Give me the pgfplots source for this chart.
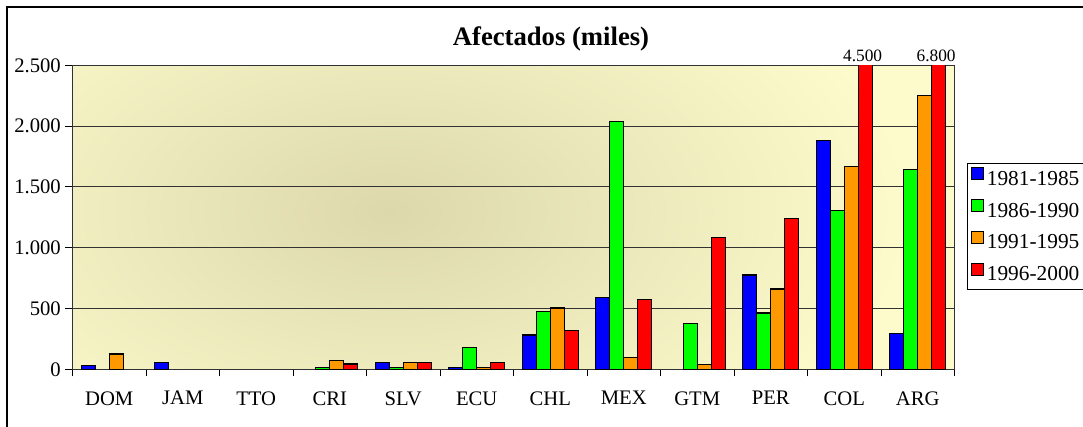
\documentclass[border=0pt]{standalone}
\usepackage{fontspec}
\setmainfont{Liberation Serif}
\usepackage{pgfplots}
\pgfplotsset{compat=1.18}
\definecolor{bBlue}{RGB}{0,0,255}
\definecolor{bGreen}{RGB}{0,255,0}
\definecolor{bOrange}{RGB}{255,153,0}
\definecolor{bRed}{RGB}{255,0,0}
\definecolor{bgOuter}{RGB}{253,251,204}
\definecolor{bgInner}{RGB}{220,216,172}
\definecolor{gridc}{RGB}{50,50,50}
\begin{document}
\begin{tikzpicture}
\path[use as bounding box] (0pt,0pt) rectangle (812.25pt,320.25pt);
\begin{scope}[x=0.75pt,y=0.75pt]
\draw[line width=0.8pt] (7,-10) rectangle (1100,420);
\begin{scope}
\clip (72.5,57.7) rectangle (954.5,361.7);
\fill[bgOuter] (72.5,57.7) rectangle (954.5,361.7);
\shade[inner color=bgInner, outer color=bgOuter] (390,215) ellipse (520 and 300);
\end{scope}
\node[font=\fontsize{20}{24}\selectfont\bfseries] at (551,388) {Afectados (miles)};
\end{scope}
\begin{axis}[
  at={(54.375pt,43.275pt)}, anchor=south west,
  scale only axis, width=661.5pt, height=228pt,
  ybar=0pt, bar width=0.19,
  xmin=-0.5, xmax=11.5, ymin=0, ymax=2500,
  ytick={0,500,...,2500},
  /pgf/number format/1000 sep={.},
  /pgf/number format/assume math mode=true,
  tick label style={font=\fontsize{15.5}{18}\selectfont},
  ymajorgrids, grid style={gridc, line width=0.6pt},
  xtick={-0.5,0.5,...,11.5},
  xticklabels={,,,,,,,,,,,,,},
  extra x ticks={0,1,2,3,4,5,6,7,8,9,10,11},
  extra x tick labels={DOM,JAM,TTO,CRI,SLV,ECU,CHL,MEX,GTM,PER,COL,ARG},
  extra x tick style={major tick length=0pt, grid=none, xticklabel style={yshift=-13pt}},
  xtick pos=bottom, ytick pos=left,
  tick align=outside, major tick length=5.25pt,
  tick style={black, line width=0.6pt},
  axis line style={gridc, line width=0.7pt},
  clip mode=individual,
  legend style={at={(1.0142,0.6786)}, anchor=north west, draw=black, fill=white,
    line width=0.6pt,
    font=\fontsize{16}{18}\selectfont, row sep=7pt, inner xsep=3pt, inner ysep=3pt},
  legend cell align=left,
  legend image code/.code={\draw[#1,draw=black,line width=0.6pt] (0pt,-0.5pt) rectangle (9pt,8.5pt);},
]
\addplot[fill=bBlue, draw=black, line width=0.9pt] coordinates {(0,30) (1,58) (4,58) (5,15) (6,282) (7,590) (9,775) (10,1882) (11,296)};
\addplot[fill=bGreen, draw=black, line width=0.9pt] coordinates {(3,15) (4,16) (5,181) (6,477) (7,2040) (8,378) (9,463) (10,1307) (11,1644)};
\addplot[fill=bOrange, draw=black, line width=0.9pt] coordinates {(0,126) (3,70) (4,54) (5,15) (6,504) (7,95) (8,40) (9,660) (10,1671) (11,2250)};
\addplot[fill=bRed, draw=black, line width=0.9pt] coordinates {(3,44) (4,54) (5,58) (6,320) (7,575) (8,1082) (9,1238) (10,4500) (11,6800)};
\legend{1981-1985,1986-1990,1991-1995,1996-2000}
\node[anchor=south, font=\fontsize{13}{15}\selectfont, inner sep=2.5pt] at (axis cs:10.25,2500) {4.500};
\node[anchor=south, font=\fontsize{13}{15}\selectfont, inner sep=2.5pt] at (axis cs:11.25,2500) {6.800};
\end{axis}
\end{tikzpicture}
\end{document}
